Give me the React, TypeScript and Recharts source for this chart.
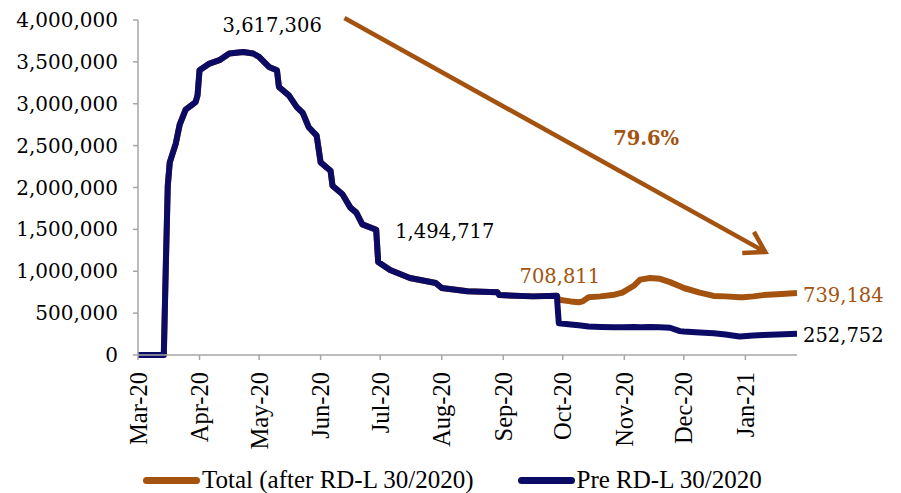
import { LineChart, Line, XAxis, YAxis, Legend, ReferenceDot, ReferenceLine } from 'recharts';

// days counted from 1 Mar 2020
const days = [
  0, 13, 14, 15, 16, 19, 21, 24, 29, 30, 31, 36, 41, 46, 53, 58, 61, 66, 70, 71, 76, 80, 83, 86, 90, 92, 97,
  98, 103, 107, 110, 113, 120, 121, 127, 137, 150, 153, 166, 181, 182, 199, 211, 212, 218, 222, 224, 227, 233,
  240, 244, 250, 253, 258, 263, 268, 273, 275, 283, 290, 296, 303, 305, 310, 315, 322, 332,
];

const preValues = [
  0, 0, 1050000, 2020000, 2300000, 2520000, 2750000, 2930000, 3020000, 3100000, 3400000, 3480000, 3520000,
  3600000, 3617306, 3600000, 3560000, 3440000, 3400000, 3200000, 3100000, 2960000, 2890000, 2720000, 2620000,
  2300000, 2200000, 2020000, 1920000, 1760000, 1700000, 1560000, 1494717, 1110000, 1015000, 920000, 860000,
  800000, 760000, 750000, 715000, 700000, 708811, 380000, 365000, 355000, 350000, 340000, 335000, 332000,
  330000, 335000, 332000, 335000, 330000, 325000, 285000, 280000, 268000, 260000, 245000, 222000, 225000,
  232000, 240000, 245000, 252752,
];

const totalValues = [
  0, 0, 1050000, 2020000, 2300000, 2520000, 2750000, 2930000, 3020000, 3100000, 3400000, 3480000, 3520000,
  3600000, 3617306, 3600000, 3560000, 3440000, 3400000, 3200000, 3100000, 2960000, 2890000, 2720000, 2620000,
  2300000, 2200000, 2020000, 1920000, 1760000, 1700000, 1560000, 1494717, 1110000, 1015000, 920000, 860000,
  800000, 760000, 750000, 715000, 700000, 708811, 660000, 640000, 630000, 640000, 690000, 700000, 720000,
  745000, 830000, 900000, 920000, 910000, 870000, 820000, 800000, 745000, 705000, 700000, 690000, 690000,
  700000, 715000, 725000, 739184,
];

const monthDays = [0, 31, 61, 92, 122, 153, 184, 214, 245, 275, 306];
const monthLabels = ['Mar-20', 'Apr-20', 'May-20', 'Jun-20', 'Jul-20', 'Aug-20', 'Sep-20', 'Oct-20', 'Nov-20', 'Dec-20', 'Jan-21'];
const yTicks = [0, 500000, 1000000, 1500000, 2000000, 2500000, 3000000, 3500000, 4000000];

const BROWN = '#A3530F';
const NAVY = '#0B0B66';
const AXIS = '#A6A6A6';
const NUM_FONT = 'DejaVu Serif';
const TEXT_FONT = 'Liberation Serif';

const rows = days.map((d, i) => ({ day: d, pre: preValues[i], total: totalValues[i] }));

const fmt = (v: number) => v.toLocaleString('en-US');

function MonthTick(props: any) {
  const { x, y, payload } = props;
  const i = monthDays.indexOf(payload.value);
  return (
    <g transform={`translate(${x},${y + 10})`}>
      <text transform="rotate(-90)" textAnchor="end" dy="0.35em" fontFamily={TEXT_FONT} fontSize={24.5} fill="#000">
        {monthLabels[i]}
      </text>
    </g>
  );
}

function note(text: string, dx: number, dy: number, color: string, anchor: string, bold = false) {
  return (p: any) => {
    const vb = p.viewBox || {};
    return (
      <text
        x={vb.x + dx}
        y={vb.y + dy}
        textAnchor={anchor}
        dominantBaseline="central"
        fontFamily={NUM_FONT}
        fontSize={19.5}
        fontWeight={bold ? 'bold' : 'normal'}
        fill={color}
      >
        {text}
      </text>
    );
  };
}

function Arrow(p: any) {
  const { x1, y1, x2, y2 } = p;
  const ang = Math.atan2(y2 - y1, x2 - x1);
  const len = 23;
  const spread = 0.55;
  const ax = x2 - len * Math.cos(ang - spread);
  const ay = y2 - len * Math.sin(ang - spread);
  const bx = x2 - len * Math.cos(ang + spread);
  const by = y2 - len * Math.sin(ang + spread);
  return (
    <g>
      <line x1={x1} y1={y1} x2={x2} y2={y2} stroke={BROWN} strokeWidth={4.5} />
      <path d={`M${ax},${ay} L${x2},${y2} L${bx},${by}`} fill="none" stroke={BROWN} strokeWidth={4.5} strokeLinejoin="miter" />
    </g>
  );
}

function LegendBox() {
  const item = (color: string, label: string, gap: number) => (
    <div style={{ display: 'flex', alignItems: 'center', marginRight: gap }}>
      <div style={{ width: 57, height: 7, borderRadius: 4, background: color, marginRight: 2 }} />
      <span style={{ fontFamily: TEXT_FONT, fontSize: 25, lineHeight: '22px', color: '#000', whiteSpace: 'nowrap' }}>{label}</span>
    </div>
  );
  return (
    <div style={{ display: 'flex', alignItems: 'center', height: 24, paddingLeft: 143, paddingBottom: 2, boxSizing: 'border-box' }}>
      {item(BROWN, 'Total (after RD-L 30/2020)', 44)}
      {item(NAVY, 'Pre RD-L 30/2020', 0)}
    </div>
  );
}

export default function App() {
  return (
    <div style={{ position: 'absolute', left: 0, top: 0, background: '#fff' }}>
      <LineChart width={901} height={493} data={rows} margin={{ top: 20, right: 104, bottom: 0, left: 0 }}>
        <XAxis
          dataKey="day"
          type="number"
          domain={[0, 332]}
          ticks={monthDays}
          interval={0}
          height={114}
          tick={<MonthTick />}
          tickSize={5}
          axisLine={{ stroke: AXIS, strokeWidth: 1.5 }}
          tickLine={{ stroke: AXIS, strokeWidth: 1.5 }}
        />
        <YAxis
          domain={[0, 4000000]}
          ticks={yTicks}
          interval={0}
          width={138}
          tickFormatter={fmt}
          tickSize={5}
          tickMargin={15}
          tick={{ fontFamily: NUM_FONT, fontSize: 20, fill: '#000' }}
          axisLine={{ stroke: AXIS, strokeWidth: 1.5 }}
          tickLine={{ stroke: AXIS, strokeWidth: 1.5 }}
        />
        <Legend verticalAlign="bottom" content={<LegendBox />} wrapperStyle={{ left: 0, width: 901 }} />

        <Line type="linear" dataKey="total" name="Total (after RD-L 30/2020)" stroke={BROWN} strokeWidth={6} dot={false} strokeLinejoin="round" isAnimationActive={false} />
        <Line type="linear" dataKey="pre" name="Pre RD-L 30/2020" stroke={NAVY} strokeWidth={6} dot={false} strokeLinejoin="round" isAnimationActive={false} />

        <ReferenceLine
          segment={[{ x: 104, y: 4024000 }, { x: 316, y: 1230000 }]}
          ifOverflow="visible"
          shape={Arrow}
        />

        <ReferenceDot x={53} y={3617306} r={0} stroke="none" fill="none" ifOverflow="visible" label={note('3,617,306', 29, -27, '#000', 'middle')} />
        <ReferenceDot x={120} y={1494717} r={0} stroke="none" fill="none" ifOverflow="visible" label={note('1,494,717', 19, 2, '#000', 'start')} />
        <ReferenceDot x={211} y={708811} r={0} stroke="none" fill="none" ifOverflow="visible" label={note('708,811', 3, -19, BROWN, 'middle')} />
        <ReferenceDot x={332} y={739184} r={0} stroke="none" fill="none" ifOverflow="visible" label={note('739,184', 6, 2, BROWN, 'start')} />
        <ReferenceDot x={332} y={252752} r={0} stroke="none" fill="none" ifOverflow="visible" label={note('252,752', 6, 2, '#000', 'start')} />
        <ReferenceDot x={256} y={2580000} r={0} stroke="none" fill="none" ifOverflow="visible" label={note('79.6%', 0, 0, BROWN, 'middle', true)} />
      </LineChart>
    </div>
  );
}
